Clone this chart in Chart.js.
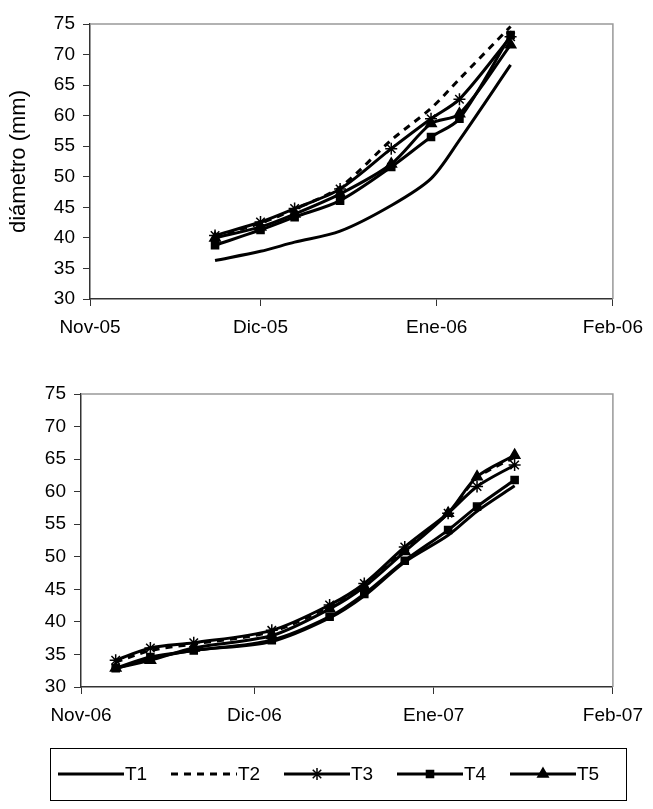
<!DOCTYPE html>
<html>
<head>
<meta charset="utf-8">
<script src="https://cdn.jsdelivr.net/npm/chart.js@4"></script>
<style>
  body { margin: 0; background: #fff; }
  canvas { display: block; }
</style>
</head>
<body>
<div style="width:653px;height:340px"><canvas id="chartTop"></canvas></div>
<div style="width:653px;height:469px"><canvas id="chartBottom"></canvas></div>
<script>
// days counted from the 1st of November
const monthTicks = [0, 30, 61, 92];
const labelsTop = ["Nov-05", "Dic-05", "Ene-06", "Feb-06"];
const labelsBottom = ["Nov-06", "Dic-06", "Ene-07", "Feb-07"];
const yTicks = [30, 35, 40, 45, 50, 55, 60, 65, 70, 75];
const series = ["T1", "T2", "T3", "T4", "T5"];

const daysTop = [22, 30, 36, 44, 53, 60, 65, 74];
const t1Top = [36.3, 37.8, 39.3, 41.1, 45.3, 49.7, 56.0, 68.3];
const t2Top = [40.2, 42.4, 44.7, 48.3, 56.0, 61.2, 66.0, 74.6];
const t3Top = [40.4, 42.6, 44.8, 48.0, 54.6, 59.5, 62.7, 72.9];
const t4Top = [38.8, 41.3, 43.4, 46.1, 51.6, 56.5, 59.5, 73.2];
const t5Top = [40.0, 41.8, 43.9, 47.2, 52.1, 58.7, 60.3, 71.6];

const daysBottom = [6, 12, 19.5, 33, 43, 49, 56, 63.5, 68.5, 75];
const t1Bottom = [32.8, 34.4, 35.6, 37.0, 40.6, 44.0, 49.2, 53.3, 57.0, 60.9];
const t2Bottom = [33.8, 35.6, 36.6, 38.5, 42.4, 45.8, 51.2, 56.7, 62.1, 65.3];
const t3Bottom = [34.1, 36.0, 36.8, 38.7, 42.6, 45.9, 51.5, 56.7, 60.8, 64.1];
const t4Bottom = [32.9, 34.6, 35.6, 37.2, 40.8, 44.3, 49.4, 54.1, 57.7, 61.8];
const t5Bottom = [32.9, 34.1, 36.0, 37.9, 42.0, 45.4, 50.8, 56.7, 62.3, 65.6];

const FONT = "'Liberation Sans', Arial, sans-serif";
const FSIZE = 19;

// line look per series
const styles = [
  { dash: [], pointStyle: false, radius: 0 },
  { dash: [7, 6], pointStyle: false, radius: 0 },
  { dash: [], pointStyle: "star", radius: 6 },
  { dash: [], pointStyle: "rect", radius: 5 },
  { dash: [], pointStyle: "triangle", radius: 6 },
];

function toPoints(days, vals) {
  return days.map((d, i) => ({ x: d, y: vals[i] }));
}

function makeDatasets(days, allVals) {
  return allVals.map((vals, i) => ({
    label: series[i],
    data: toPoints(days, vals),
    borderColor: "#000",
    backgroundColor: "#000",
    borderWidth: 3,
    borderDash: styles[i].dash,
    tension: 0.3,
    pointStyle: styles[i].pointStyle,
    pointRadius: styles[i].radius,
    pointBorderWidth: 1.5,
    pointBackgroundColor: "#000",
    pointBorderColor: "#000",
  }));
}

// gray frame on top and right like the excel plot area
const framePlugin = {
  id: "frame",
  beforeDatasetsDraw(chart) {
    const { ctx, chartArea: a } = chart;
    ctx.save();
    ctx.strokeStyle = "#999";
    ctx.lineWidth = 1.5;
    ctx.beginPath();
    ctx.moveTo(a.left, a.top);
    ctx.lineTo(a.right, a.top);
    ctx.lineTo(a.right, a.bottom);
    ctx.stroke();
    ctx.restore();
  },
};

// boxed legend with line samples under the second chart
const legendPlugin = {
  id: "boxLegend",
  afterDraw(chart) {
    const ctx = chart.ctx;
    const top = 408, bottom = 460, left = 50, right = 626;
    const mid = (top + bottom) / 2;
    ctx.save();
    ctx.strokeStyle = "#000";
    ctx.lineWidth = 1;
    ctx.strokeRect(left + 0.5, top + 0.5, right - left, bottom - top);
    ctx.font = FSIZE + "px " + FONT;
    ctx.textBaseline = "middle";
    ctx.fillStyle = "#000";
    const sampleLen = 66;
    series.forEach((name, i) => {
      const sx = 58 + i * 113;
      ctx.lineWidth = 3;
      ctx.setLineDash(styles[i].dash);
      ctx.beginPath();
      ctx.moveTo(sx, mid);
      ctx.lineTo(sx + sampleLen, mid);
      ctx.stroke();
      ctx.setLineDash([]);
      if (styles[i].pointStyle) {
        ctx.lineWidth = 1.5;
        Chart.helpers.drawPoint(ctx, {
          pointStyle: styles[i].pointStyle,
          radius: styles[i].radius,
          borderWidth: 1.5,
          rotation: 0,
        }, sx + sampleLen / 2, mid);
      }
      ctx.fillText(name, sx + sampleLen + 1, mid + 1);
    });
    ctx.restore();
  },
};

function makeOptions(monthLabels, yWidth, xHeight, pad, yTitle) {
  return {
    animation: false,
    responsive: true,
    maintainAspectRatio: false,
    layout: { padding: pad },
    plugins: { legend: { display: false }, tooltip: { enabled: false } },
    scales: {
      x: {
        type: "linear",
        min: 0,
        max: 92,
        afterBuildTicks: (s) => { s.ticks = monthTicks.map((v) => ({ value: v })); },
        afterFit: (s) => { s.height = xHeight; },
        grid: { drawOnChartArea: false, tickLength: 7, color: "#333" },
        border: { color: "#333", width: 1.5 },
        ticks: {
          color: "#000",
          font: { family: FONT, size: FSIZE },
          padding: 10,
          maxRotation: 0,
          callback: (v) => monthLabels[monthTicks.indexOf(v)],
        },
      },
      y: {
        min: 30,
        max: 75,
        afterBuildTicks: (s) => { s.ticks = yTicks.map((v) => ({ value: v })); },
        afterFit: (s) => { s.width = yWidth; },
        grid: { drawOnChartArea: false, tickLength: 7, color: "#333" },
        border: { color: "#333", width: 1.5 },
        ticks: { color: "#000", font: { family: FONT, size: FSIZE }, padding: 8 },
        title: {
          display: !!yTitle,
          text: yTitle,
          color: "#000",
          font: { family: FONT, size: 22 },
          padding: { top: 6, bottom: 0 },
        },
      },
    },
  };
}

new Chart(document.getElementById("chartTop"), {
  type: "line",
  data: { datasets: makeDatasets(daysTop, [t1Top, t2Top, t3Top, t4Top, t5Top]) },
  options: makeOptions(labelsTop, 90, 41, { left: 0, right: 37, top: 24, bottom: 0 }, "diámetro (mm)"),
  plugins: [framePlugin],
});

new Chart(document.getElementById("chartBottom"), {
  type: "line",
  data: { datasets: makeDatasets(daysBottom, [t1Bottom, t2Bottom, t3Bottom, t4Bottom, t5Bottom]) },
  options: makeOptions(labelsBottom, 81, 122, { left: 0, right: 36, top: 54, bottom: 0 }, ""),
  plugins: [framePlugin, legendPlugin],
});
</script>
</body>
</html>
